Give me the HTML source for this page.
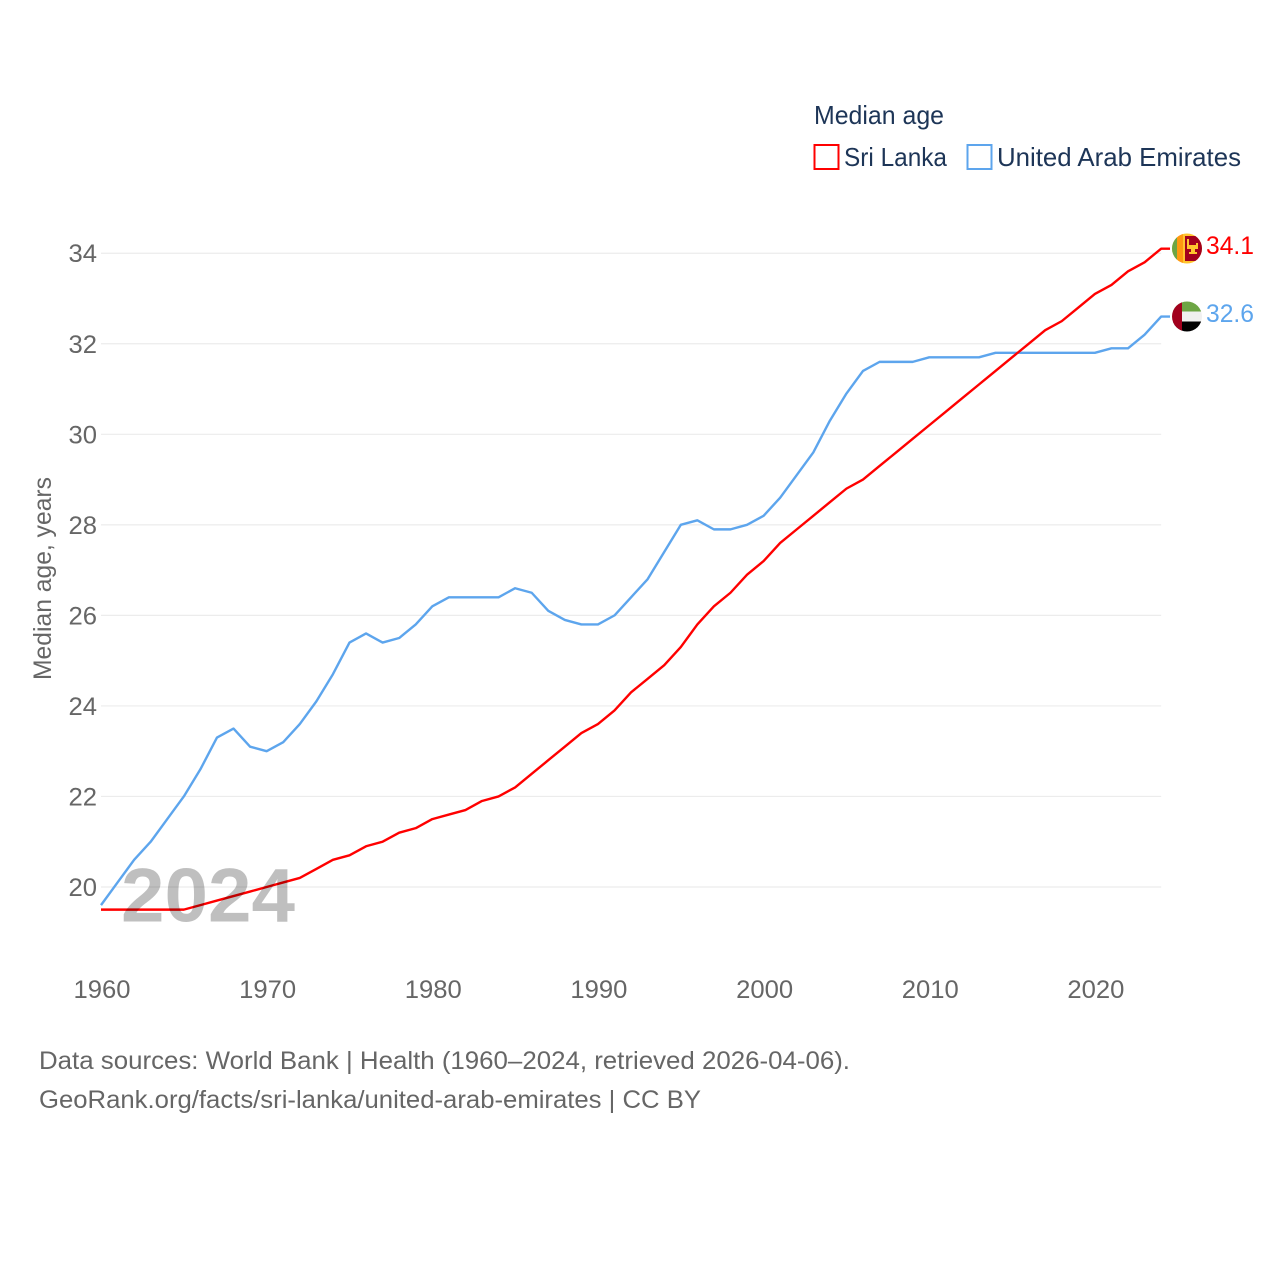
<!DOCTYPE html>
<html>
<head>
<meta charset="utf-8">
<title>Median age</title>
<style>
html,body{margin:0;padding:0;background:#fff}
svg{display:block}
text{font-family:"Liberation Sans",sans-serif}
</style>
</head>
<body>
<svg id="chart" width="1280" height="1280" viewBox="0 0 1280 1280" xmlns="http://www.w3.org/2000/svg">
  <defs>
    <clipPath id="clip-lk"><circle cx="1187" cy="248.5" r="15"/></clipPath>
    <clipPath id="clip-ae"><circle cx="1187" cy="316.5" r="15"/></clipPath>
  </defs>
  <g id="grid"></g>
  <g id="yticks"></g>
  <g id="xticks"></g>
  <g id="series"></g>

  <text transform="translate(51,680) rotate(-90)" font-size="25" fill="#666" textLength="203" lengthAdjust="spacingAndGlyphs">Median age, years</text>

  <text x="121" y="921.5" font-size="76" font-weight="bold" fill="#000" fill-opacity="0.25" textLength="174" lengthAdjust="spacingAndGlyphs">2024</text>

  <text x="814" y="124" font-size="26" fill="#1d3557" textLength="130" lengthAdjust="spacingAndGlyphs">Median age</text>
  <g>
    <rect x="814.5" y="145" width="24" height="24" fill="#fff" stroke="#ff0000" stroke-width="2"/>
    <text x="844" y="166" font-size="26" fill="#1d3557" textLength="103" lengthAdjust="spacingAndGlyphs">Sri Lanka</text>
  </g>
  <g>
    <rect x="967.5" y="145" width="24" height="24" fill="#fff" stroke="#5da5ed" stroke-width="2"/>
    <text x="997" y="166" font-size="26" fill="#1d3557" textLength="244" lengthAdjust="spacingAndGlyphs">United Arab Emirates</text>
  </g>

  <g clip-path="url(#clip-lk)">
    <rect x="1172" y="233" width="30" height="31" fill="#ffc52e"/>
    <rect x="1172" y="233" width="5" height="31" fill="#6da544"/>
    <rect x="1177" y="233" width="6" height="31" fill="#ff9811"/>
    <rect x="1185" y="236" width="17" height="25" fill="#a2001d"/>
    <path d="M1187 239h2v6h7v-2h2v6h-3v3h2v2h-8v-2h2v-3h-4z" fill="#ffc52e"/>
  </g>
  <g clip-path="url(#clip-ae)">
    <rect x="1172" y="301" width="30" height="10.5" fill="#6da544"/>
    <rect x="1172" y="311.5" width="30" height="10" fill="#f0f0f0"/>
    <rect x="1172" y="321.5" width="30" height="10.5" fill="#000"/>
    <rect x="1172" y="301" width="10" height="31" fill="#a2001d"/>
  </g>
  <text x="1206" y="254" font-size="25" fill="#ff0000" textLength="48" lengthAdjust="spacingAndGlyphs">34.1</text>
  <text x="1206" y="322" font-size="25" fill="#5da5ed" textLength="48" lengthAdjust="spacingAndGlyphs">32.6</text>

  <text x="39" y="1069" font-size="25" fill="#666" textLength="811" lengthAdjust="spacingAndGlyphs">Data sources: World Bank | Health (1960–2024, retrieved 2026-04-06).</text>
  <text x="39" y="1108" font-size="25" fill="#666" textLength="662" lengthAdjust="spacingAndGlyphs">GeoRank.org/facts/sri-lanka/united-arab-emirates | CC BY</text>
</svg>
<script>
const years = [1960,1961,1962,1963,1964,1965,1966,1967,1968,1969,1970,1971,1972,1973,1974,1975,1976,1977,1978,1979,1980,1981,1982,1983,1984,1985,1986,1987,1988,1989,1990,1991,1992,1993,1994,1995,1996,1997,1998,1999,2000,2001,2002,2003,2004,2005,2006,2007,2008,2009,2010,2011,2012,2013,2014,2015,2016,2017,2018,2019,2020,2021,2022,2023,2024];
const sriLanka = [19.5,19.5,19.5,19.5,19.5,19.5,19.6,19.7,19.8,19.9,20.0,20.1,20.2,20.4,20.6,20.7,20.9,21.0,21.2,21.3,21.5,21.6,21.7,21.9,22.0,22.2,22.5,22.8,23.1,23.4,23.6,23.9,24.3,24.6,24.9,25.3,25.8,26.2,26.5,26.9,27.2,27.6,27.9,28.2,28.5,28.8,29.0,29.3,29.6,29.9,30.2,30.5,30.8,31.1,31.4,31.7,32.0,32.3,32.5,32.8,33.1,33.3,33.6,33.8,34.1];
const uae = [19.6,20.1,20.6,21.0,21.5,22.0,22.6,23.3,23.5,23.1,23.0,23.2,23.6,24.1,24.7,25.4,25.6,25.4,25.5,25.8,26.2,26.4,26.4,26.4,26.4,26.6,26.5,26.1,25.9,25.8,25.8,26.0,26.4,26.8,27.4,28.0,28.1,27.9,27.9,28.0,28.2,28.6,29.1,29.6,30.3,30.9,31.4,31.6,31.6,31.6,31.7,31.7,31.7,31.7,31.8,31.8,31.8,31.8,31.8,31.8,31.8,31.9,31.9,32.2,32.6];
const yTickLabels = [20,22,24,26,28,30,32,34];
const xTickLabels = [1960,1970,1980,1990,2000,2010,2020];

const NS = 'http://www.w3.org/2000/svg';
function xScale(year){ return 101 + (year - 1960) * 16.565; }
function yScale(age){ return 887 - (age - 20) * 45.27; }
function make(tag, attrs){
  const el = document.createElementNS(NS, tag);
  for (const k in attrs) el.setAttribute(k, attrs[k]);
  return el;
}
const grid = document.getElementById('grid');
const yticks = document.getElementById('yticks');
const xticks = document.getElementById('xticks');
const seriesGroup = document.getElementById('series');

yTickLabels.forEach(function(v){
  const line = make('line', {x1:101, x2:xScale(2024), y1:yScale(v), y2:yScale(v), stroke:'#ececec', 'stroke-width':1.2});
  
  
  grid.appendChild(line);
  const t = make('text', {x:97, y:yScale(v)+9, 'text-anchor':'end', 'font-size':25, fill:'#666', textLength:28.5, lengthAdjust:'spacingAndGlyphs'});
  
  
  t.textContent = v;
  yticks.appendChild(t);
});
xTickLabels.forEach(function(v){
  const t = make('text', {x:xScale(v)+1, y:998, 'text-anchor':'middle', 'font-size':25, fill:'#666', textLength:57, lengthAdjust:'spacingAndGlyphs'});
  
  
  t.textContent = v;
  xticks.appendChild(t);
});
function drawSeries(values, color, name){
  const pts = values.map(function(v,i){ return xScale(years[i]).toFixed(2)+','+yScale(v).toFixed(2); });
  pts.push('1170,'+yScale(values[values.length-1]).toFixed(2));
  const p = make('polyline', {points:pts.join(' '), fill:'none', stroke:color, 'stroke-width':2.4, 'stroke-linejoin':'round'});
  
  
  seriesGroup.appendChild(p);
}
drawSeries(uae, '#5da5ed', 'line-united-arab-emirates');
drawSeries(sriLanka, '#ff0000', 'line-sri-lanka');
</script>
</body>
</html>
